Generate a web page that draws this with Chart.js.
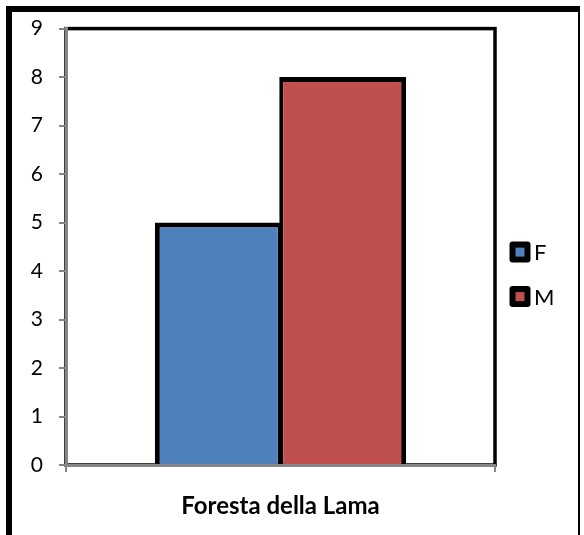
<!DOCTYPE html>
<html>
<head>
<meta charset="utf-8">
<script src="https://cdn.jsdelivr.net/npm/chart.js@4/dist/chart.umd.min.js"></script>
<style>
  html, body { margin: 0; padding: 0; background: #fff; overflow: hidden; }
  #wrap { position: relative; width: 584px; height: 535px; }
  #frame {
    position: absolute; left: 6px; top: 6px; width: 566px; height: 600px;
    border-left: 6px solid #000; border-top: 6px solid #000; border-right: 2px solid #000;
  }
  canvas { position: absolute; left: 0; top: 0; }
</style>
</head>
<body>
<div id="wrap">
  <div id="frame"></div>
  <canvas id="chart" width="584" height="535"></canvas>
</div>
<script>
// Category, series and axis values
const categories = ['Foresta della Lama'];
const seriesNames = ['F', 'M'];
const valuesF = [5];
const valuesM = [8];
const yMin = 0;
const yMax = 9;
const yStep = 1;

const BLUE = '#4F81BD';
const RED = '#C0504D';
const AXIS_GREY = '#858585';
const FONT = 'Lato, "Open Sans", sans-serif';

// Black border on the top and right of the plot area
const plotFrame = {
  id: 'plotFrame',
  beforeDraw(chart) {
    const { ctx, chartArea: a } = chart;
    ctx.save();
    ctx.strokeStyle = '#000';
    ctx.lineWidth = 3.5;
    ctx.strokeRect(a.left, a.top, a.right - a.left, a.bottom - a.top);
    ctx.restore();
  }
};

// Legend to the right of the plot: black rounded square with a colour swatch
const sideLegend = {
  id: 'sideLegend',
  afterDraw(chart) {
    const { ctx, chartArea: a } = chart;
    const boxSize = 21, inner = 9;
    const x = a.right + 14.5;
    const firstCenter = a.top + 223.5;
    const step = 44.5;
    ctx.save();
    chart.data.datasets.forEach((ds, i) => {
      const cy = firstCenter + i * step;
      const top = cy - boxSize / 2;
      ctx.fillStyle = '#000';
      ctx.beginPath();
      ctx.roundRect(x, top, boxSize, boxSize, 3);
      ctx.fill();
      ctx.fillStyle = ds.backgroundColor;
      ctx.fillRect(x + (boxSize - inner) / 2, top + (boxSize - inner) / 2, inner, inner);
      ctx.fillStyle = '#000';
      ctx.font = '22px ' + FONT;
      ctx.textAlign = 'left';
      ctx.textBaseline = 'middle';
      ctx.fillText(ds.label, x + boxSize + 3.5, cy + 1);
    });
    ctx.restore();
  }
};

new Chart(document.getElementById('chart'), {
  type: 'bar',
  data: {
    labels: categories,
    datasets: [
      {
        label: seriesNames[0],
        data: valuesF,
        backgroundColor: BLUE,
        borderColor: '#000',
        borderWidth: { top: 5, left: 5, right: 4, bottom: 0 }
      },
      {
        label: seriesNames[1],
        data: valuesM,
        backgroundColor: RED,
        borderColor: '#000',
        borderWidth: { top: 5, left: 4, right: 5, bottom: 0 }
      }
    ]
  },
  options: {
    responsive: false,
    devicePixelRatio: 1,
    animation: false,
    layout: { padding: { top: 28, right: 89, bottom: 0, left: 0 } },
    datasets: { bar: { categoryPercentage: 0.58, barPercentage: 1.02 } },
    plugins: {
      legend: { display: false },
      tooltip: { enabled: false }
    },
    scales: {
      x: {
        offset: true,
        border: { color: AXIS_GREY, width: 3 },
        grid: {
          display: true,
          offset: true,
          drawOnChartArea: false,
          tickLength: 7,
          color: AXIS_GREY,
          lineWidth: 2
        },
        ticks: {
          color: '#000',
          padding: 20,
          font: { family: FONT, size: 24, weight: 'bold' }
        },
        afterFit(scale) { scale.height = 70; }
      },
      y: {
        min: yMin,
        max: yMax,
        border: { color: AXIS_GREY, width: 3 },
        grid: {
          drawOnChartArea: false,
          tickLength: 7,
          color: AXIS_GREY,
          lineWidth: 2
        },
        ticks: {
          stepSize: yStep,
          color: '#000',
          padding: 16,
          font: { family: FONT, size: 21 }
        },
        afterFit(scale) { scale.width = 66; }
      }
    }
  },
  plugins: [plotFrame, sideLegend]
});
</script>
</body>
</html>
